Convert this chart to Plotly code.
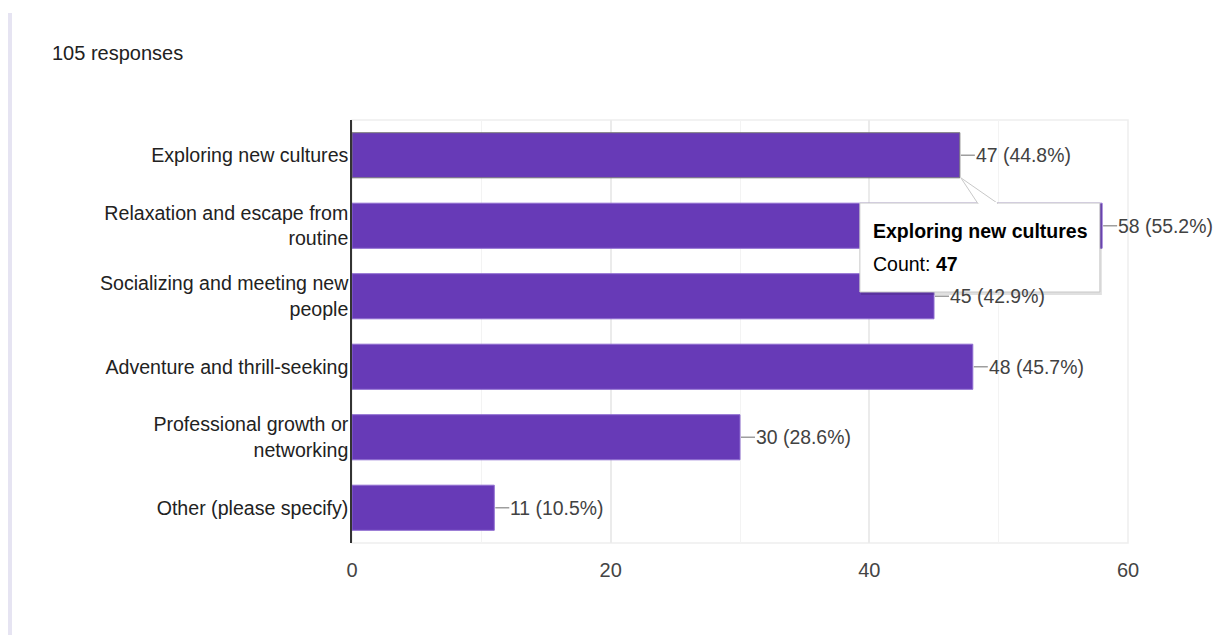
import plotly.graph_objects as go

categories = [
    "Exploring new cultures",
    "Relaxation and escape from<br>routine",
    "Socializing and meeting new<br>people",
    "Adventure and thrill-seeking",
    "Professional growth or<br>networking",
    "Other (please specify)",
]
counts = [47, 58, 45, 48, 30, 11]
total_responses = 105
x_ticks = [0, 20, 40, 60]
hover_index = 0

FONT = "Liberation Sans, Arial, sans-serif"
BAR = "#673ab7"

OFF = 8  # page body margin
W, H = 1221 - 2 * OFF, 643 - 2 * OFF
ML, MR, MT, MB = 352 - OFF, 93 - OFF, 120 - OFF, 100 - OFF
PW, PH = W - ML - MR, H - MT - MB
XMAX = 60
NCAT = len(categories)
XPP = XMAX / PW
YPP = NCAT / PH

pos = list(range(NCAT))
labels = [f"{c} ({c / total_responses * 100:.1f}%)" for c in counts]

line_colors = ["#7a7a7a" if i == hover_index else "#8e6cd0" for i in pos]

fig = go.Figure(
    go.Bar(
        x=counts,
        y=pos,
        orientation="h",
        width=0.64,
        marker=dict(color=BAR, line=dict(color=line_colors, width=1)),
        hoverinfo="skip",
    )
)

annotations = []
for i, (c, lab) in enumerate(zip(counts, labels)):
    annotations.append(
        dict(
            x=c, y=i, xref="x", yref="y",
            text=lab, showarrow=True, arrowhead=0, arrowwidth=1.3,
            arrowcolor="#9e9e9e", ax=15, ay=0, standoff=1,
            xanchor="left", yanchor="middle",
            font=dict(family=FONT, size=19.4, color="#424242"),
            borderpad=0,
        )
    )

annotations.append(
    dict(
        x=0, y=1, xref="paper", yref="paper",
        xshift=50 - 352, yshift=120 - 53,
        text=f"{total_responses} responses", showarrow=False,
        xanchor="left", yanchor="middle",
        font=dict(family=FONT, size=20, color="#212121"),
    )
)

# tooltip over the hovered bar
hv = counts[hover_index]
def px_x(dx):
    return hv + dx * XPP
def px_y(dy):
    return hover_index + dy * YPP

bar_bottom_dy = 0.32 / YPP
bar_c = 120 + 0.5 * PH / NCAT
box_top = 203 - bar_c
box_bot = 292 - bar_c
box_l, box_r = 860 - 960, 1100 - 960

shapes = [
    # left decorative bar
    dict(type="rect", xref="paper", yref="paper",
         x0=(8 - 352) / PW, x1=(12 - 352) / PW, y0=-(MB + 5) / PH, y1=1 + (120 - 13) / PH,
         fillcolor="#e6e4f2", line=dict(width=0), layer="below"),
    # plot border
    dict(type="rect", xref="paper", yref="paper", x0=0, x1=1, y0=0, y1=1,
         line=dict(color="#eeeeee", width=1.5), layer="below"),
    # tooltip shadow
    dict(type="rect", xref="x", yref="y",
         x0=px_x(box_l + 1), x1=px_x(box_r + 2), y0=px_y(box_top + 1), y1=px_y(box_bot + 3),
         fillcolor="rgba(0,0,0,0.12)", line=dict(width=0)),
    dict(type="rect", xref="x", yref="y",
         x0=px_x(box_l), x1=px_x(box_r), y0=px_y(box_top), y1=px_y(box_bot),
         fillcolor="white", line=dict(color="#c8c8c8", width=1)),
    dict(type="path", xref="x", yref="y",
         path=(f"M {px_x(18)} {px_y(box_top + 0.5)} L {px_x(1)} {px_y(bar_bottom_dy)} "
               f"L {px_x(38)} {px_y(box_top + 0.5)}"),
         fillcolor="white", line=dict(color="#c8c8c8", width=1)),
    dict(type="line", xref="x", yref="y",
         x0=px_x(19), x1=px_x(37), y0=px_y(box_top), y1=px_y(box_top),
         line=dict(color="white", width=2)),
]

annotations.append(
    dict(x=px_x(box_l + 11), y=px_y(231 - bar_c), xref="x", yref="y",
         text=f"<b>{categories[hover_index]}</b>", showarrow=False,
         xanchor="left", yanchor="middle",
         font=dict(family=FONT, size=19.5, color="#000000"))
)
annotations.append(
    dict(x=px_x(box_l + 11), y=px_y(264 - bar_c), xref="x", yref="y",
         text=f"Count: <b>{hv}</b>", showarrow=False,
         xanchor="left", yanchor="middle",
         font=dict(family=FONT, size=19.5, color="#000000"))
)

fig.update_layout(
    width=W, height=H,
    margin=dict(l=ML, r=MR, t=MT, b=MB, pad=0),
    paper_bgcolor="white", plot_bgcolor="white",
    showlegend=False,
    xaxis=dict(
        range=[0, XMAX], tickvals=x_ticks, showgrid=True, gridcolor="#ebebeb",
        gridwidth=1.5, zeroline=False, showline=False, ticks="",
        ticklabelstandoff=13,
        tickfont=dict(family=FONT, size=20, color="#444444"),
        minor=dict(dtick=10, showgrid=True, gridcolor="#f3f3f3", gridwidth=1),
        fixedrange=True,
    ),
    yaxis=dict(
        range=[NCAT - 0.5, -0.5], tickvals=pos, ticktext=categories,
        showgrid=False, zeroline=False, showline=True, linecolor="#333333", linewidth=1.5,
        ticks="", ticklabelstandoff=-2,
        tickfont=dict(family=FONT, size=19.6, color="#222222"),
        fixedrange=True,
    ),
    annotations=annotations,
    shapes=shapes,
)

fig.write_html("out.html")
